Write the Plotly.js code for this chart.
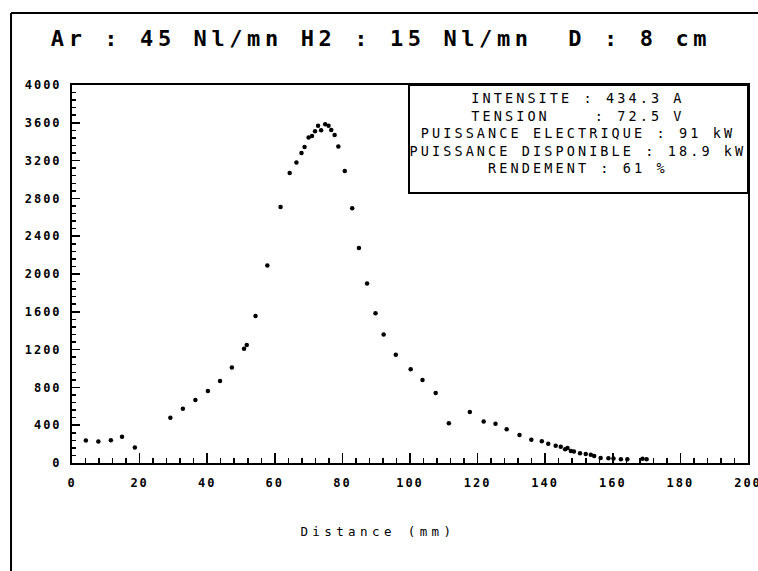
<!DOCTYPE html>
<html>
<head>
<meta charset="utf-8">
<script src="https://cdn.plot.ly/plotly-3.0.1.min.js"></script>
<style>
  html, body { margin: 0; padding: 0; background: #fff; overflow: hidden; }
  #chart { width: 758px; height: 571px; }
  .xtick text, .ytick text { letter-spacing: 2px; }
</style>
</head>
<body>
<div id="chart"></div>
<script>
// Heat-flux profile along the jet: distance (mm) and measured value
const distance = [
  4.1, 7.8, 11.5, 14.8, 18.6, 29.1, 32.8, 36.5, 40.2, 43.8,
  47.3, 50.9, 51.7, 54.3, 57.8, 61.7, 64.4, 66.4, 67.9, 68.8,
  70.0, 71.0, 71.9, 72.8, 73.7, 74.9, 75.9, 76.7, 77.7, 78.8,
  80.7, 82.9, 84.9, 87.3, 89.8, 92.2, 95.8, 100.2, 103.7, 107.6,
  111.5, 117.7, 121.8, 125.3, 128.6, 132.4, 135.9, 139.0, 140.9, 143.1,
  144.6, 145.9, 146.6, 147.6, 148.5, 150.3, 152.0, 153.5, 154.5, 156.4,
  158.7, 160.2, 162.4, 164.3, 168.8, 170.0
];
const flux = [
  237, 227, 241, 277, 163, 479, 574, 667, 763, 868,
  1010, 1210, 1250, 1555, 2090, 2710, 3070, 3180, 3280, 3345,
  3445, 3460, 3510, 3570, 3520, 3585, 3570, 3525, 3470, 3350,
  3090, 2695, 2275, 1900, 1585, 1360, 1145, 992, 878, 742,
  420, 540, 438, 416, 356, 296, 247, 230, 204, 183,
  172, 145, 159, 127, 123, 102, 95, 88, 74, 53,
  50, 48, 39, 39, 46, 40
];

// Tick labels and operating conditions
const yTicks = [0, 400, 800, 1200, 1600, 2000, 2400, 2800, 3200, 3600, 4000];
const xTicks = [0, 20, 40, 60, 80, 100, 120, 140, 160, 180, 200];
const titleText = "Ar : 45 Nl/mn H2 : 15 Nl/mn\u00a0\u00a0D : 8 cm";
const infoLines = [
  "INTENSITE : 434.3 A",
  "TENSION\u00a0\u00a0\u00a0 : 72.5 V",
  "PUISSANCE ELECTRIQUE : 91 kW",
  "PUISSANCE DISPONIBLE : 18.9 kW",
  "RENDEMENT : 61 %"
];
const xTitle = "Distance (mm)";

const mono = "DejaVu Sans Mono";

const trace = {
  type: "scatter",
  mode: "markers",
  x: distance,
  y: flux,
  marker: { color: "#000", size: 4.5 },
  hoverinfo: "skip",
  cliponaxis: false
};

const layout = {
  width: 758,
  height: 571,
  margin: { l: 72, r: 10, t: 85, b: 108 },
  paper_bgcolor: "#fff",
  plot_bgcolor: "#fff",
  showlegend: false,
  title: {
    text: "<b>" + titleText + "</b>",
    font: { family: mono, size: 22, color: "#000" },
    xref: "container", x: 0.5026, xanchor: "center",
    yref: "container", y: 1 - 38 / 571, yanchor: "middle"
  },
  xaxis: {
    range: [0, 200],
    tickmode: "array",
    tickvals: xTicks,
    ticktext: xTicks.map(String),
    ticks: "inside", ticklen: 10, tickwidth: 1.5, tickcolor: "#000",
    minor: { dtick: 4, ticks: "inside", ticklen: 5, tickwidth: 1.5, tickcolor: "#000" },
    showgrid: false, zeroline: false,
    showline: true, linecolor: "#000", linewidth: 2, mirror: true,
    ticklabelstandoff: 8,
    ticklabeloverflow: "allow",
    tickfont: { family: mono, size: 12, color: "#000", weight: "bold" }
  },
  yaxis: {
    range: [0, 4000],
    tickmode: "array",
    tickvals: yTicks,
    ticktext: yTicks.map(String),
    ticks: "inside", ticklen: 8, tickwidth: 1.5, tickcolor: "#000",
    minor: { dtick: 80, ticks: "inside", ticklen: 4, tickwidth: 1.5, tickcolor: "#000" },
    showgrid: false, zeroline: false,
    showline: true, linecolor: "#000", linewidth: 2, mirror: true,
    ticklabelstandoff: 6,
    ticklabeloverflow: "allow",
    tickfont: { family: mono, size: 12, color: "#000", weight: "bold" }
  },
  shapes: [
    // outer frame (top and left edges; the rest runs off the page)
    { type: "line", xref: "paper", yref: "paper",
      x0: -0.0902, y0: 1.1905, x1: 1.0148, y1: 1.1905,
      line: { color: "#000", width: 2 } },
    { type: "line", xref: "paper", yref: "paper",
      x0: -0.0902, y0: 1.1905, x1: -0.0902, y1: -0.2857,
      line: { color: "#000", width: 2 } },
    // operating-conditions box in the upper right corner
    { type: "rect", xref: "paper", yref: "paper",
      x0: (409 - 72) / 676, x1: 1, y0: (463 - 193) / 378, y1: 1,
      line: { color: "#000", width: 2 }, fillcolor: "#fff" }
  ],
  annotations: [
    { xref: "paper", yref: "paper",
      x: (578 - 72) / 676, y: (463 - 133) / 378,
      xanchor: "center", yanchor: "middle", align: "center",
      showarrow: false,
      text: infoLines.join("<br>"),
      font: { family: mono, size: 13.5, color: "#000" } },
    { xref: "paper", yref: "paper",
      x: (378 - 72) / 676, y: (463 - 531) / 378,
      xanchor: "center", yanchor: "middle",
      showarrow: false,
      text: xTitle,
      font: { family: mono, size: 12.5, color: "#000" } }
  ]
};

Plotly.newPlot("chart", [trace], layout, { staticPlot: true, displayModeBar: false })
  .then(function (gd) {
    // widen character pitch to the plotter lettering
    const t = gd.querySelector(".gtitle");
    if (t) t.style.letterSpacing = "4.6px";
    const ann = gd.querySelectorAll(".annotation-text");
    if (ann[0]) ann[0].style.letterSpacing = "3.1px";
    if (ann[1]) ann[1].style.letterSpacing = "4.4px";
  });
</script>
</body>
</html>
